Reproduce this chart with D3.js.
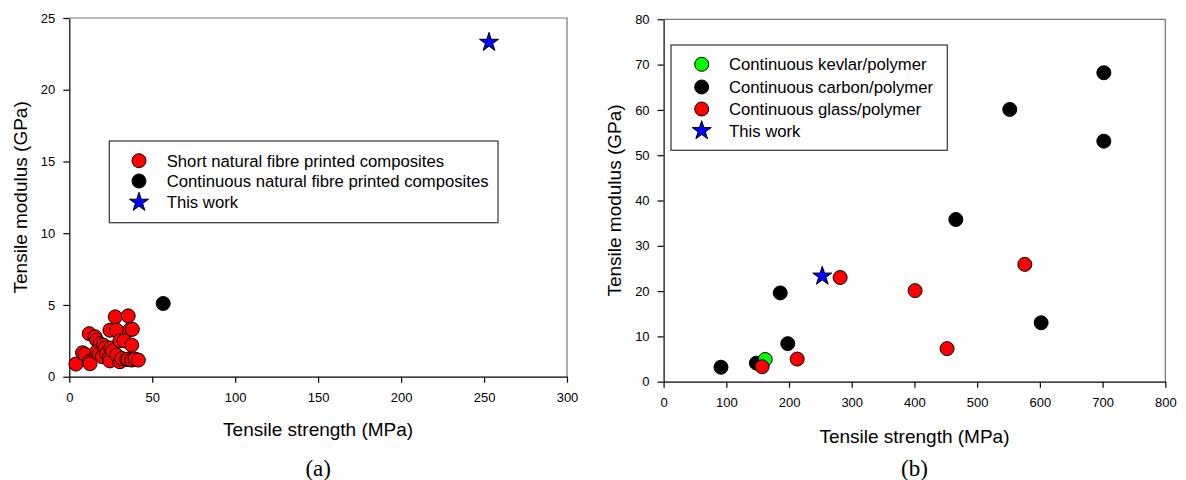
<!DOCTYPE html>
<html>
<head>
<meta charset="utf-8">
<script src="https://cdn.jsdelivr.net/npm/d3@7"></script>
<style>
  html, body { margin: 0; padding: 0; background: #fff; }
  svg { display: block; }
  text { font-family: "Liberation Sans", Arial, sans-serif; fill: #000; }
</style>
</head>
<body>
<svg id="chart" width="1186" height="480"></svg>
<script>
// ---- Panel (a): natural fibre printed composites, [strength MPa, modulus GPa]
const shortNatural = [
  [4, 0.88], [8, 1.67], [9.5, 1.55], [12, 1.04], [12.5, 0.9], [12, 3.0],
  [15.5, 2.78], [16.5, 2.55], [18.5, 2.3], [16.5, 1.74], [18, 1.6], [20.5, 2.2],
  [21.5, 1.97], [19.9, 1.39], [22.5, 1.62], [24, 1.3], [24.5, 1.1], [25, 2.0],
  [26, 1.8], [24.5, 3.24], [27.7, 4.17], [35.5, 4.24], [28.5, 3.24], [30.5, 2.5],
  [36.6, 3.29], [38, 3.3], [28.5, 1.5], [30.5, 1.04], [31.6, 1.27], [33, 2.5],
  [34.6, 1.2], [35.5, 1.23], [37.6, 1.16], [37.6, 2.2], [39.6, 1.23], [41.6, 1.16]
];
const continuousNatural = [[56.6, 5.1]];
const thisWork = [[253, 23.3]];

// ---- Panel (b): continuous synthetic fibre printed composites
const kevlarPolymer = [[162, 4.9]];
const carbonPolymer = [
  [91.5, 3.2], [148, 4.1], [186, 19.6], [198, 8.4], [466, 35.8],
  [552, 60.1], [602, 13.0], [702, 68.2], [702, 53.1]
];
const glassPolymer = [
  [157, 3.3], [213, 5.0], [281.5, 23.0], [401, 20.1], [452, 7.3], [576, 25.9]
];

const xTicksA = [0, 50, 100, 150, 200, 250, 300];
const yTicksA = [0, 5, 10, 15, 20, 25];
const xTicksB = [0, 100, 200, 300, 400, 500, 600, 700, 800];
const yTicksB = [0, 10, 20, 30, 40, 50, 60, 70, 80];

const legendA = ["Short natural fibre printed composites",
                 "Continuous natural fibre printed composites",
                 "This work"];
const legendB = ["Continuous kevlar/polymer", "Continuous carbon/polymer",
                 "Continuous glass/polymer", "This work"];

const svg = d3.select("#chart");
const starPath = d3.symbol().type(d3.symbolStar).size(112)();
const R = 7;

function panel(cfg) {
  const x = d3.scaleLinear().domain(cfg.xDomain).range([cfg.left, cfg.right]);
  const y = d3.scaleLinear().domain(cfg.yDomain).range([cfg.bottom, cfg.top]);
  const g = svg.append("g");

  // top and right frame
  g.append("path")
    .attr("d", `M${cfg.left},${cfg.top}H${cfg.right}V${cfg.bottom}`)
    .attr("fill", "none").attr("stroke", "#777").attr("stroke-width", 1.2);

  const ax = g.append("g").attr("transform", `translate(0,${cfg.bottom})`)
    .call(d3.axisBottom(x).tickValues(cfg.xTicks).tickSize(6).tickSizeOuter(0).tickPadding(10));
  const ay = g.append("g").attr("transform", `translate(${cfg.left},0)`)
    .call(d3.axisLeft(y).tickValues(cfg.yTicks).tickSize(6).tickSizeOuter(0).tickPadding(8));
  [ax, ay].forEach(a => {
    a.selectAll("text").style("font-size", "13px").attr("fill", "#111");
    a.selectAll("line, path").attr("stroke", "#000").attr("stroke-width", 1.2);
  });

  // axis titles
  g.append("text")
    .attr("x", (cfg.left + cfg.right) / 2).attr("y", cfg.xTitleY)
    .attr("text-anchor", "middle").style("font-size", "19px")
    .text("Tensile strength (MPa)");
  g.append("text")
    .attr("transform", `translate(${cfg.yTitleX},${(cfg.top + cfg.bottom) / 2}) rotate(-90)`)
    .attr("text-anchor", "middle").attr("dy", "0.35em").style("font-size", "19px")
    .text("Tensile modulus (GPa)");

  // panel label
  g.append("text")
    .attr("x", (cfg.left + cfg.right) / 2).attr("y", 476)
    .attr("text-anchor", "middle")
    .style("font-family", "'Liberation Serif', 'Times New Roman', serif")
    .style("font-size", "23px")
    .text(cfg.label);

  // markers
  cfg.series.forEach(s => {
    if (s.shape === "star") {
      g.selectAll(null).data(s.data).enter().append("path")
        .attr("d", starPath)
        .attr("transform", d => `translate(${x(d[0])},${y(d[1])})`)
        .attr("fill", s.color).attr("stroke", "#000").attr("stroke-width", 1);
    } else {
      g.selectAll(null).data(s.data).enter().append("circle")
        .attr("cx", d => x(d[0])).attr("cy", d => y(d[1])).attr("r", R)
        .attr("fill", s.color).attr("stroke", "#000").attr("stroke-width", 1);
    }
  });

  // legend
  const L = cfg.legend;
  g.append("rect")
    .attr("x", L.x0).attr("y", L.y0).attr("width", L.x1 - L.x0).attr("height", L.y1 - L.y0)
    .attr("fill", "#fff").attr("stroke", "#333").attr("stroke-width", 1.2);
  L.items.forEach((it, i) => {
    const cy = L.rows[i];
    if (it.shape === "star") {
      g.append("path").attr("d", starPath)
        .attr("transform", `translate(${L.symX},${cy})`)
        .attr("fill", it.color).attr("stroke", "#000").attr("stroke-width", 1);
    } else {
      g.append("circle").attr("cx", L.symX).attr("cy", cy).attr("r", R)
        .attr("fill", it.color).attr("stroke", "#000").attr("stroke-width", 1);
    }
    g.append("text").attr("x", L.textX).attr("y", cy).attr("dy", "0.35em")
      .style("font-size", "16.7px").text(it.name);
  });
}

panel({
  left: 69.3, right: 567, top: 18, bottom: 376.7,
  xDomain: [0, 300], yDomain: [0, 25], xTicks: xTicksA, yTicks: yTicksA,
  xTitleY: 436, yTitleX: 20, label: "(a)",
  series: [
    { data: shortNatural, color: "#ff0000" },
    { data: continuousNatural, color: "#000000" },
    { data: thisWork, color: "#0000ff", shape: "star" }
  ],
  legend: {
    x0: 109.3, x1: 498, y0: 141, y1: 222.7, symX: 139, textX: 166.7,
    rows: [160.7, 181, 202.3],
    items: [
      { name: legendA[0], color: "#ff0000" },
      { name: legendA[1], color: "#000000" },
      { name: legendA[2], color: "#0000ff", shape: "star" }
    ]
  }
});

panel({
  left: 663.6, right: 1165.3, top: 19.3, bottom: 381.7,
  xDomain: [0, 800], yDomain: [0, 80], xTicks: xTicksB, yTicks: yTicksB,
  xTitleY: 443, yTitleX: 614, label: "(b)",
  series: [
    { data: carbonPolymer, color: "#000000" },
    { data: kevlarPolymer, color: "#00ff00" },
    { data: glassPolymer, color: "#ff0000" },
    { data: thisWork, color: "#0000ff", shape: "star" }
  ],
  legend: {
    x0: 671, x1: 947.3, y0: 45, y1: 150.3, symX: 701.7, textX: 729,
    rows: [64.3, 87, 109, 130.7],
    items: [
      { name: legendB[0], color: "#00ff00" },
      { name: legendB[1], color: "#000000" },
      { name: legendB[2], color: "#ff0000" },
      { name: legendB[3], color: "#0000ff", shape: "star" }
    ]
  }
});
</script>
</body>
</html>
